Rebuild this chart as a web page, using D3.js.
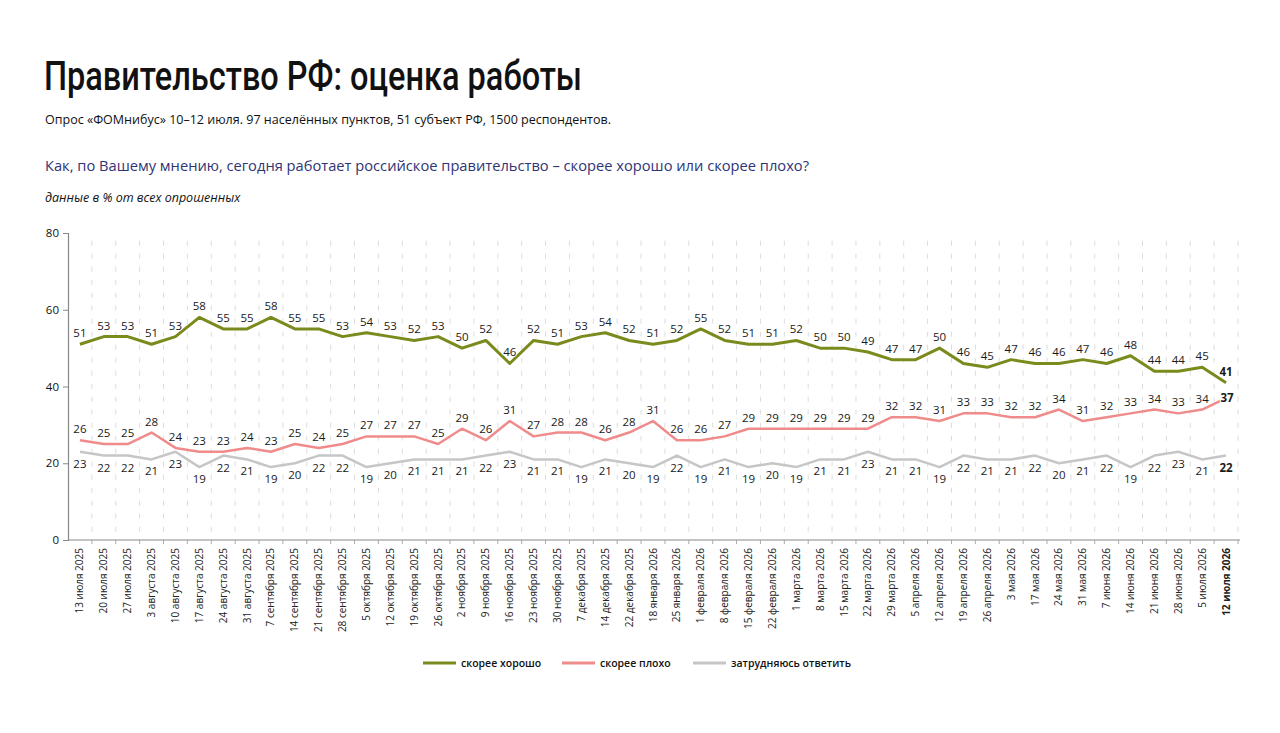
<!DOCTYPE html>
<html>
<head>
<meta charset="utf-8">
<script src="https://cdn.jsdelivr.net/npm/d3@7"></script>
<style>
body { margin: 0; background: #fff; }
svg text { font-family: "Open Sans", "Noto Sans", sans-serif; }
</style>
</head>
<body>
<svg id="chart" width="1280" height="733"></svg>
<script>
var dates = ["13 июля 2025","20 июля 2025","27 июля 2025","3 августа 2025","10 августа 2025","17 августа 2025",
"24 августа 2025","31 августа 2025","7 сентября 2025","14 сентября 2025","21 сентября 2025","28 сентября 2025",
"5 октября 2025","12 октября 2025","19 октября 2025","26 октября 2025","2 ноября 2025","9 ноября 2025",
"16 ноября 2025","23 ноября 2025","30 ноября 2025","7 декабря 2025","14 декабря 2025","22 декабря 2025",
"18 января 2026","25 января 2026","1 февраля 2026","8 февраля 2026","15 февраля 2026","22 февраля 2026",
"1 марта 2026","8 марта 2026","15 марта 2026","22 марта 2026","29 марта 2026","5 апреля 2026",
"12 апреля 2026","19 апреля 2026","26 апреля 2026","3 мая 2026","17 мая 2026","24 мая 2026",
"31 мая 2026","7 июня 2026","14 июня 2026","21 июня 2026","28 июня 2026","5 июля 2026","12 июля 2026"];

var good = [51,53,53,51,53,58,55,55,58,55,55,53,54,53,52,53,50,52,46,52,51,53,54,52,51,52,55,52,51,51,
52,50,50,49,47,47,50,46,45,47,46,46,47,46,48,44,44,45,41];
var bad = [26,25,25,28,24,23,23,24,23,25,24,25,27,27,27,25,29,26,31,27,28,28,26,28,31,26,26,27,29,29,
29,29,29,29,32,32,31,33,33,32,32,34,31,32,33,34,33,34,37];
var hard = [23,22,22,21,23,19,22,21,19,20,22,22,19,20,21,21,21,22,23,21,21,19,21,20,19,22,19,21,19,20,
19,21,21,23,21,21,19,22,21,21,22,20,21,22,19,22,23,21,22];

var seriesNames = ["скорее хорошо","скорее плохо","затрудняюсь ответить"];
var yTicks = [0,20,40,60,80];

var series = [
  {name: seriesNames[0], values: good, color: "#7b8a1d", width: 3, pos: "above"},
  {name: seriesNames[1], values: bad, color: "#f08b8b", width: 2.5, pos: "above"},
  {name: seriesNames[2], values: hard, color: "#c6c6c6", width: 2.5, pos: "below"}
];

var svg = d3.select("#chart");

svg.append("text").attr("x", 44).attr("y", 90)
  .style("font-family", "Roboto, sans-serif").style("font-weight", "500")
  .style("font-size", "41px").attr("fill", "#111")
  .attr("textLength", 538).attr("lengthAdjust", "spacingAndGlyphs")
  .text("Правительство РФ: оценка работы");
svg.append("text").attr("x", 45).attr("y", 124)
  .style("font-size", "12.5px").attr("fill", "#111")
  .attr("textLength", 566).attr("lengthAdjust", "spacingAndGlyphs")
  .text("Опрос «ФОМнибус» 10–12 июля. 97 населённых пунктов, 51 субъект РФ, 1500 респондентов.");
svg.append("text").attr("x", 45).attr("y", 171)
  .style("font-size", "15px").style("font-weight", "500").attr("fill", "#2f3474")
  .attr("textLength", 764).attr("lengthAdjust", "spacingAndGlyphs")
  .text("Как, по Вашему мнению, сегодня работает российское правительство – скорее хорошо или скорее плохо?");
svg.append("text").attr("x", 45).attr("y", 202)
  .style("font-size", "12.5px").style("font-style", "italic").attr("fill", "#111")
  .text("данные в % от всех опрошенных");

var plotLeft = 68, plotRight = 1238, plotTop = 233, plotBottom = 540;

var x = d3.scaleBand().domain(dates).range([plotLeft, plotRight]).paddingInner(0).paddingOuter(0);
var y = d3.scaleLinear().domain([0, 80]).range([plotBottom, plotTop]);
var cx = function(i){ return x(dates[i]) + x.bandwidth() / 2; };

// dashed vertical grid between categories
svg.append("g").selectAll("line")
  .data(dates.slice(1).concat(["end"]))
  .enter().append("line")
  .attr("x1", function(d){ return d == "end" ? plotRight : x(d); })
  .attr("x2", function(d){ return d == "end" ? plotRight : x(d); })
  .attr("y1", y(78))
  .attr("y2", plotBottom)
  .attr("stroke", "#dcdcdc")
  .attr("stroke-width", 1)
  .attr("stroke-dasharray", "5,8");

// x axis
svg.append("g")
  .attr("transform", "translate(0," + plotBottom + ")")
  .call(d3.axisBottom(x).tickSize(0).tickPadding(8))
  .call(function(a){
    a.select(".domain").attr("stroke", "#888").attr("stroke-width", 1.2).attr("d", "M" + plotLeft + ",0H" + (plotRight + 2));
    a.selectAll("text")
      .attr("transform", "rotate(-90)")
      .attr("x", -8).attr("y", 0).attr("dy", "0.35em")
      .style("text-anchor", "end")
      .style("font-size", "10px")
      .style("font-family", "'Open Sans', sans-serif")
      .attr("fill", "#222")
      .style("font-weight", function(d, i){ return i == dates.length - 1 ? "bold" : "normal"; });
  });
svg.append("g").selectAll("line")
  .data(dates.slice(1).concat(["end"]))
  .enter().append("line")
  .attr("x1", function(d){ return d == "end" ? plotRight : x(d); })
  .attr("x2", function(d){ return d == "end" ? plotRight : x(d); })
  .attr("y1", plotBottom).attr("y2", plotBottom + 4)
  .attr("stroke", "#aaa");

// y axis
svg.append("g")
  .attr("transform", "translate(" + plotLeft + ",0)")
  .call(d3.axisLeft(y).tickValues(yTicks).tickSize(5).tickPadding(4))
  .call(function(a){
    a.select(".domain").attr("stroke", "#888").attr("stroke-width", 1.2);
    a.selectAll(".tick line").attr("stroke", "#888");
    a.selectAll("text").style("font-size", "11.5px").style("font-weight", "500").attr("fill", "#111");
  });

// lines
var line = d3.line()
  .x(function(d, i){ return cx(i); })
  .y(function(d){ return y(d); });

series.forEach(function(s){
  svg.append("path")
    .datum(s.values)
    .attr("fill", "none")
    .attr("stroke", s.color)
    .attr("stroke-width", s.width)
    .attr("stroke-linejoin", "round")
    .attr("d", line);
});

// labels
series.forEach(function(s, k){
  var last = s.values.length - 1;
  svg.append("g").selectAll("text")
    .data(s.values)
    .enter().append("text")
    .attr("x", function(d, i){ return cx(i) + (i == last && k == 1 ? 1 : 0); })
    .attr("y", function(d, i){
      if (i == last && k == 1) return y(d) + 4;
      return s.pos == "below" ? y(d) + 16 : y(d) - 7;
    })
    .attr("text-anchor", "middle")
    .style("font-size", "11.5px")
    .style("font-weight", function(d, i){ return i == last ? "bold" : "500"; })
    .attr("fill", "#1a1a1a")
    .attr("stroke", "#fff").attr("stroke-width", 2).attr("paint-order", "stroke")
    .text(function(d){ return d; });
});

// legend
var legX = [423, 562, 693];
series.forEach(function(s, i){
  svg.append("line")
    .attr("x1", legX[i]).attr("x2", legX[i] + 33)
    .attr("y1", 663).attr("y2", 663)
    .attr("stroke", s.color).attr("stroke-width", 3);
  svg.append("text")
    .attr("x", legX[i] + 38).attr("y", 667)
    .style("font-size", "10.5px").style("font-weight", "600")
    .attr("fill", "#111")
    .text(s.name);
});
</script>
</body>
</html>
